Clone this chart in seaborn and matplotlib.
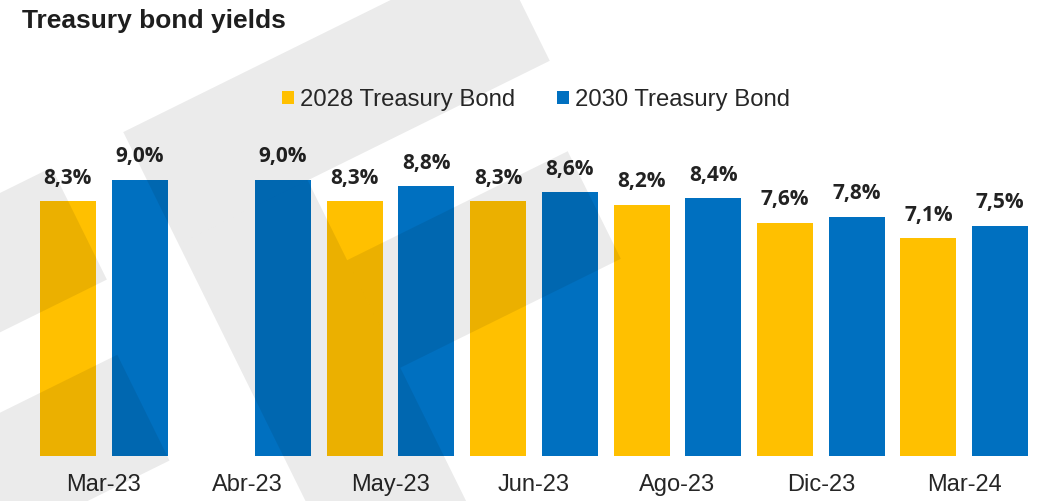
import numpy as np
import pandas as pd
import matplotlib
matplotlib.use("Agg")
import matplotlib.pyplot as plt
from matplotlib.patches import Patch, Polygon
import seaborn as sns

# Chart data
months = ["Mar-23", "Abr-23", "May-23", "Jun-23", "Ago-23", "Dic-23", "Mar-24"]
series_names = ["2028 Treasury Bond", "2030 Treasury Bond"]
bond_2028 = [8.3, np.nan, 8.3, 8.3, 8.2, 7.6, 7.1]
bond_2030 = [9.0, 9.0, 8.8, 8.6, 8.4, 7.8, 7.5]
title_text = "Treasury bond yields"

colors = ["#FFC000", "#0070C0"]
text_dark = "#262626"

df = pd.DataFrame({
    "month": months * 2,
    "series": [series_names[0]] * len(months) + [series_names[1]] * len(months),
    "value": bond_2028 + bond_2030,
})

sns.set_theme(style="white")
plt.rcParams["font.family"] = ["Liberation Sans", "DejaVu Sans"]

W, H = 1040, 501
fig = plt.figure(figsize=(W / 100, H / 100), dpi=100)
fig.patch.set_facecolor("white")

# plot area in pixel terms: baseline at 456 px, top at 130 px
ax = fig.add_axes([32 / W, 1 - 456 / H, (1036 - 32) / W, (456 - 130) / H])
sns.barplot(
    data=df, x="month", y="value", hue="series",
    order=months, hue_order=series_names, palette=colors,
    width=1.0, gap=0.22, dodge=True, saturation=1,
    errorbar=None, linewidth=0, legend=False, ax=ax,
)
ax.set_xlim(-0.5, len(months) - 0.5)
ax.set_ylim(0, 326 / 30.67)
ax.set_facecolor("none")

for cont in ax.containers:
    vals = cont.datavalues
    labels = ["" if np.isnan(v) else f"{v:.1f}%".replace(".", ",") for v in vals]
    ax.bar_label(cont, labels=labels, padding=9, fontfamily="Open Sans",
                 fontweight="bold", fontsize=15, color="#222222")

ax.set_xlabel("")
ax.set_ylabel("")
ax.set_yticks([])
ax.tick_params(axis="x", length=0, pad=13, labelsize=17, labelcolor=text_dark)
sns.despine(ax=ax, left=True, bottom=True)

# legend
handles = [Patch(facecolor=c, edgecolor="none") for c in colors]
fig.legend(handles, series_names, loc="center", bbox_to_anchor=(536 / W, 1 - 100 / H),
           ncol=2, frameon=False, fontsize=17.2, handlelength=0.5, handleheight=0.5,
           handletextpad=0.25, columnspacing=1.72, borderpad=0, borderaxespad=0,
           labelcolor=text_dark)

# title
fig.text(22 / W, 1 - 28 / H, title_text, fontsize=19, fontweight="bold",
         color="#1e1e1e", ha="left", va="baseline")

# faint rotated logo watermark, built from bands in a tilted frame
theta = np.arctan(0.494)
cs, sn = np.cos(theta), np.sin(theta)
bands = [
    (52, 466, 173, 298),
    (196, 442, 387, 507),
    (52, 196, 298, 900),
    (-400, -28, 173, 298),
    (-400, -52, 370, 488),
]
for u0, u1, v0, v1 in bands:
    pts = [(u0, v0), (u1, v0), (u1, v1), (u0, v1)]
    xy = [((u * cs + v * sn) / W, 1 - (-u * sn + v * cs) / H) for u, v in pts]
    fig.patches.append(Polygon(xy, closed=True, transform=fig.transFigure,
                               facecolor="black", alpha=0.08, edgecolor="none", zorder=1))

fig.savefig("out.png", dpi=100)
